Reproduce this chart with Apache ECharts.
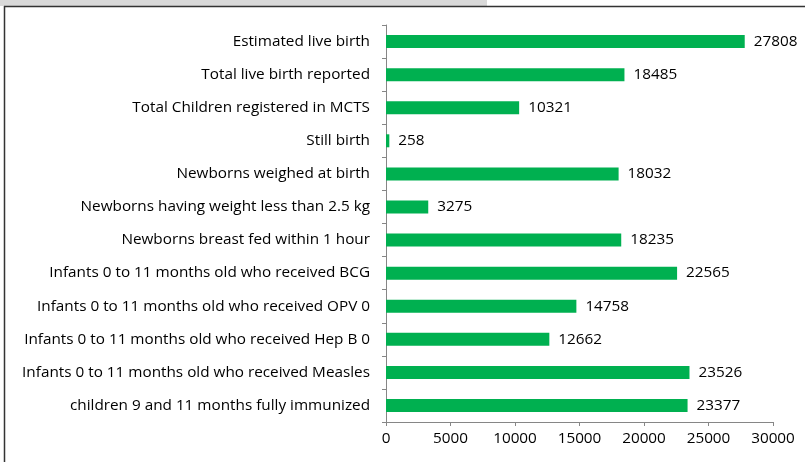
<!DOCTYPE html>
<html><head><meta charset="utf-8">
<script src="https://cdn.jsdelivr.net/npm/echarts@6/dist/echarts.min.js"></script>
<style>html,body{margin:0;padding:0;background:#fff}#c{width:805px;height:462px}</style>
</head><body><div id="c"></div>
<script>
const categories = [
  "Estimated live birth",
  "Total live birth reported",
  "Total Children registered in MCTS",
  "Still birth",
  "Newborns weighed at birth",
  "Newborns having weight less than 2.5 kg",
  "Newborns breast fed within 1 hour",
  "Infants 0 to 11 months old who received BCG",
  "Infants 0 to 11 months old who received OPV 0",
  "Infants 0 to 11 months old who received Hep B 0",
  "Infants 0 to 11 months old who received Measles",
  "children 9 and 11 months fully immunized"
];
const values = [27808, 18485, 10321, 258, 18032, 3275, 18235, 22565, 14758, 12662, 23526, 23377];
const xTicks = [0, 5000, 10000, 15000, 20000, 25000, 30000];

const font = "Open Sans";
const fs = 15.3;
const chart = echarts.init(document.getElementById('c'));
chart.setOption({
  animation: false,
  textStyle: {fontFamily: font},
  grid: {left: 386, right: 32, top: 25, bottom: 40, containLabel: false},
  graphic: [
    {type: 'rect', shape: {x: 0, y: 0, width: 487, height: 6}, style: {fill: '#d9d9d9'}},
    {type: 'line', shape: {x1: 4, y1: 6.5, x2: 805, y2: 6.5}, style: {stroke: '#333', lineWidth: 1.5}},
    {type: 'line', shape: {x1: 4.5, y1: 6, x2: 4.5, y2: 462}, style: {stroke: '#333', lineWidth: 1.5}}
  ],
  xAxis: {
    type: 'value', min: xTicks[0], max: xTicks[xTicks.length - 1], interval: xTicks[1] - xTicks[0],
    axisLine: {show: true, lineStyle: {color: '#868686'}},
    axisTick: {show: true, length: 4, lineStyle: {color: '#868686'}},
    splitLine: {show: false},
    axisLabel: {color: '#000', fontSize: fs, fontFamily: font, margin: 9, formatter: v => String(v)}
  },
  yAxis: {
    type: 'category', data: categories, inverse: true,
    axisLine: {show: true, lineStyle: {color: '#868686'}},
    axisTick: {show: true, length: 4, lineStyle: {color: '#868686'}},
    axisLabel: {color: '#000', fontSize: fs, fontFamily: font, margin: 16}
  },
  series: [{
    type: 'bar', data: values, barWidth: 13,
    itemStyle: {color: '#00B050'},
    label: {show: true, position: 'right', distance: 9, color: '#000', fontSize: fs, fontFamily: font}
  }]
});
</script></body></html>
